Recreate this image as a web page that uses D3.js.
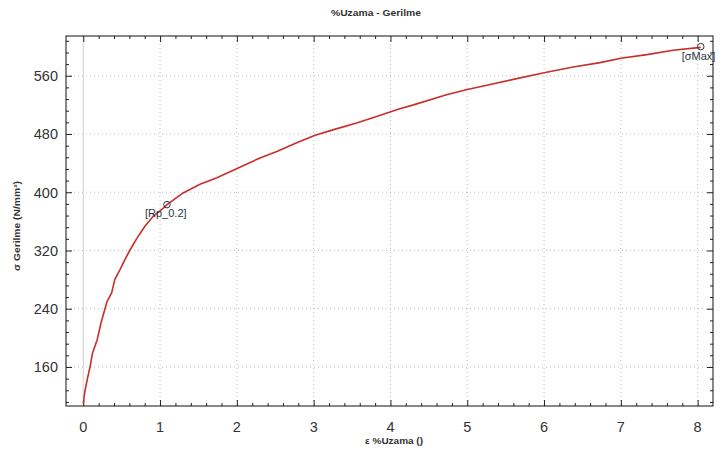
<!DOCTYPE html>
<html>
<head>
<meta charset="utf-8">
<script src="https://cdn.jsdelivr.net/npm/d3@7"></script>
<style>
  body { margin: 0; background: #fff; }
  text { font-family: "Liberation Sans", Arial, sans-serif; }
  .tick-label { font-family: "Liberation Sans Narrow", "Arial Narrow", "Liberation Sans", sans-serif; }
</style>
</head>
<body>
<svg id="chart" width="721" height="457"></svg>
<script>
// strain (%) and stress (N/mm2)
var strain = [0.00, 0.02, 0.05, 0.09, 0.12, 0.18, 0.23, 0.28, 0.31, 0.37, 0.41, 0.48, 0.54, 0.61, 0.70, 0.80, 0.91, 1.02, 1.09,
  1.30, 1.52, 1.74, 2.01, 2.30, 2.52, 2.78, 3.01, 3.26, 3.56, 3.82, 4.10, 4.30, 4.73, 5.00, 5.30, 5.60, 6.00, 6.38, 6.73,
  7.00, 7.34, 7.68, 8.04];
var stress = [110, 126, 142, 161, 179, 197, 220, 239, 250, 262, 280, 294, 307, 321, 337, 353, 367, 376, 383,
  399, 411, 420, 433, 447, 456, 468, 478, 486, 495, 504, 514, 520, 534, 541, 548, 555, 564, 572, 578,
  584, 589, 595, 599];

var markers = [
  {label: "[Rp_0.2]", x: 1.09, y: 383, dx: -22, dy: 12},
  {label: "[σMax]", x: 8.04, y: 600, dx: -19, dy: 13}
];

var xTicks = [0, 1, 2, 3, 4, 5, 6, 7, 8];
var yTicks = [160, 240, 320, 400, 480, 560];

var svg = d3.select("#chart");
var pLeft = 66, pRight = 713, pTop = 36, pBottom = 406;

var x = d3.scaleLinear().domain([-0.225, 8.2]).range([pLeft, pRight]);
var y = d3.scaleLinear().domain([106.4, 614.6]).range([pBottom, pTop]);

// title
svg.append("text")
  .attr("x", 376).attr("y", 16)
  .attr("text-anchor", "middle")
  .attr("font-size", 8.5).attr("font-weight", "bold")
  .attr("textLength", 90).attr("lengthAdjust", "spacingAndGlyphs")
  .attr("fill", "#333")
  .text("%Uzama - Gerilme");

// grid
svg.append("g").selectAll("line").data(xTicks).join("line")
  .attr("x1", d => x(d)).attr("x2", d => x(d))
  .attr("y1", pTop).attr("y2", pBottom)
  .attr("stroke", d => d === 0 ? "#d0d0d0" : "#bdbdbd")
  .attr("stroke-dasharray", d => d === 0 ? null : "1,3");

svg.append("g").selectAll("line").data(yTicks).join("line")
  .attr("x1", pLeft).attr("x2", pRight)
  .attr("y1", d => y(d)).attr("y2", d => y(d))
  .attr("stroke", "#bdbdbd")
  .attr("stroke-dasharray", "1,3");

// axes, ticks inward
var xMinor = d3.range(0, 41).map(d => d / 5).filter(d => d % 1 !== 0);
var yMinor = d3.range(112, 615, 16).filter(d => (d - 160) % 80 !== 0);

function tickAxis(axis, scale, major, minor, tr) {
  var g = svg.append("g").attr("transform", tr);
  g.call(axis(scale).tickValues(major).tickSize(-6).tickFormat(""));
  g.append("g").call(axis(scale).tickValues(minor).tickSize(-3).tickFormat(""));
  g.selectAll(".domain").remove();
  g.selectAll("line").attr("stroke", "#222");
  return g;
}
tickAxis(d3.axisBottom, x, xTicks, xMinor, "translate(0," + pBottom + ")");
tickAxis(d3.axisTop, x, xTicks, xMinor, "translate(0," + pTop + ")");
tickAxis(d3.axisLeft, y, yTicks, yMinor, "translate(" + pLeft + ",0)");
tickAxis(d3.axisRight, y, yTicks, yMinor, "translate(" + pRight + ",0)");

svg.append("g").selectAll("text").data(xTicks).join("text")
  .attr("class", "tick-label")
  .attr("x", d => x(d)).attr("y", pBottom + 26)
  .attr("text-anchor", "middle")
  .attr("font-size", 14.5).attr("fill", "#333")
  .text(d => d);

svg.append("g").selectAll("text").data(yTicks).join("text")
  .attr("class", "tick-label")
  .attr("x", pLeft - 8).attr("y", d => y(d) + 5.3)
  .attr("text-anchor", "end")
  .attr("font-size", 14.5).attr("fill", "#333")
  .text(d => d);

svg.append("rect")
  .attr("x", pLeft).attr("y", pTop)
  .attr("width", pRight - pLeft).attr("height", pBottom - pTop)
  .attr("fill", "none").attr("stroke", "#111");

// axis titles
svg.append("text")
  .attr("x", 394).attr("y", 444)
  .attr("text-anchor", "middle")
  .attr("font-size", 8.5).attr("font-weight", "bold")
  .attr("textLength", 58).attr("lengthAdjust", "spacingAndGlyphs")
  .attr("fill", "#333")
  .text("ε %Uzama ()");

svg.append("text")
  .attr("transform", "translate(20,226) rotate(-90)")
  .attr("text-anchor", "middle")
  .attr("font-size", 8.5).attr("font-weight", "bold")
  .attr("textLength", 90).attr("lengthAdjust", "spacingAndGlyphs")
  .attr("fill", "#333")
  .text("σ Gerilme (N/mm²)");

// curve
var line = d3.line().x((d, i) => x(strain[i])).y(d => y(d));
svg.append("path")
  .attr("d", line(stress))
  .attr("fill", "none")
  .attr("stroke", "#c62f2a")
  .attr("stroke-width", 1.6);

// markers
var mk = svg.append("g").selectAll("g").data(markers).join("g");
mk.append("circle")
  .attr("cx", d => x(d.x)).attr("cy", d => y(d.y))
  .attr("r", 3.3)
  .attr("fill", "none").attr("stroke", "#333").attr("stroke-width", 1);
mk.append("text")
  .attr("x", d => x(d.x) + d.dx).attr("y", d => y(d.y) + d.dy)
  .attr("font-size", 11).attr("fill", "#2b3440")
  .text(d => d.label);
</script>
</body>
</html>
